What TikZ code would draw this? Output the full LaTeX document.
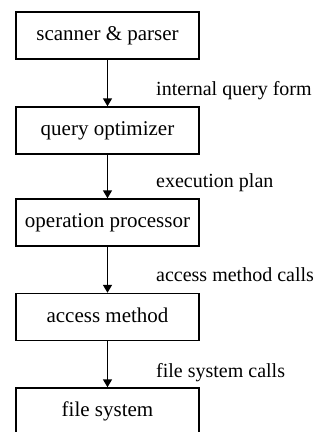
\documentclass[tikz,border=0pt]{standalone}
\usepackage{fontspec}
\setmainfont{Liberation Serif}
\usetikzlibrary{arrows.meta}
\begin{document}
\begin{tikzpicture}[x=1pt,y=1pt,
  stage/.style={draw, line width=1.4pt, minimum width=183pt, minimum height=47pt,
    inner sep=0pt, font=\fontsize{21}{24}\selectfont, text height=14pt, text depth=4pt},
  flow/.style={line width=1.5pt, -{Triangle[length=8pt,width=9pt]}},
  lbl/.style={anchor=base west, inner sep=0pt, font=\fontsize{20}{24}\selectfont}]
\useasboundingbox (0,0) rectangle (326,432);
\clip (0,0) rectangle (326,432);
% processing stages, top to bottom
\node[stage] (scan) at (107.5,396.5) {scanner \& parser};
\node[stage] (opt)  at (107.5,301.5) {query optimizer};
\node[stage] (proc) at (107.5,209.5) {operation processor};
\node[stage] (acc)  at (107.5,115)   {access method};
\node[stage] (fs)   at (107.5,20.5)  {file system};
% data passed between stages
\draw[flow] (scan) -- (opt);
\draw[flow] (opt)  -- (proc);
\draw[flow] (proc) -- (acc);
\draw[flow] (acc)  -- (fs);
\node[lbl] (l1) at (156,336) {internal query form};
\node[lbl] (l2) at (156,244) {execution plan};
\node[lbl] (l3) at (156,150) {access method calls};
\node[lbl] (l4) at (156,55)  {file system calls};
\end{tikzpicture}
\end{document}
